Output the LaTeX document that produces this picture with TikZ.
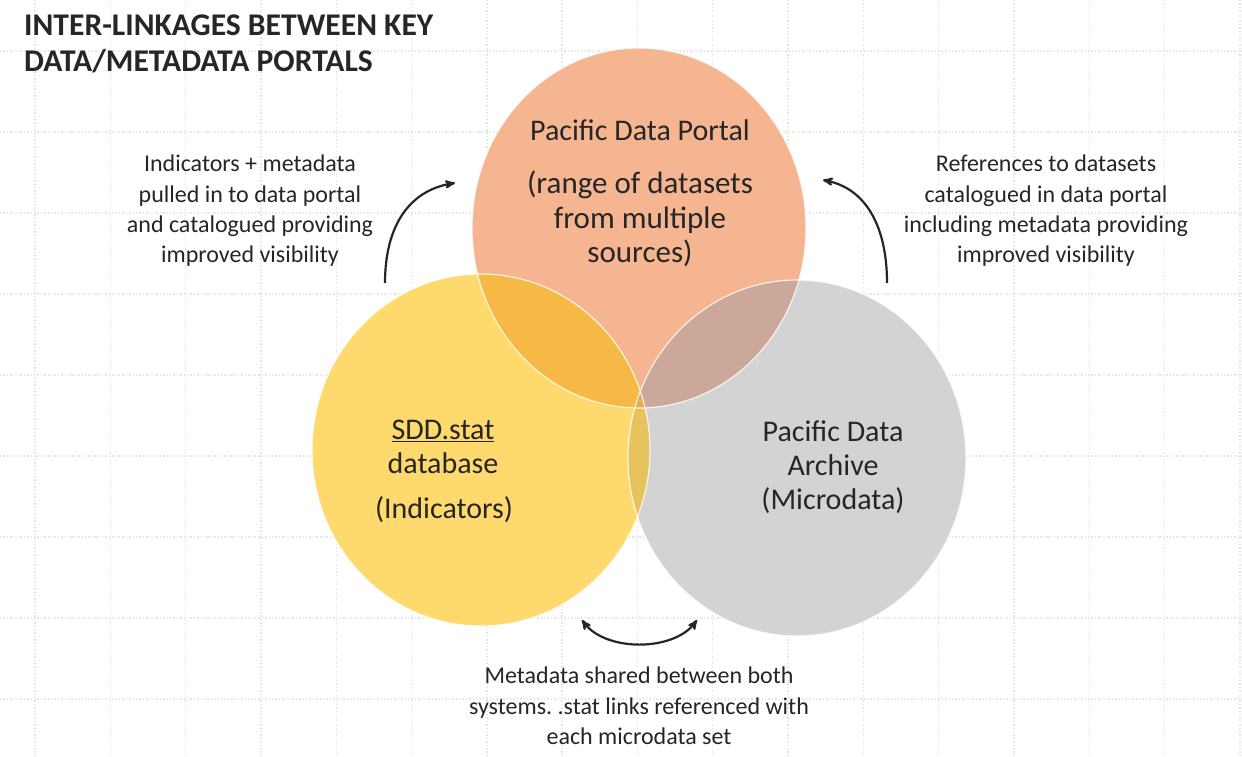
\documentclass[tikz,border=0pt]{standalone}
\usepackage{fontspec}
\setmainfont{Carlito}
\usepackage{tikz, xcolor}
\usetikzlibrary{shapes,arrows}
\frenchspacing

\definecolor{portalfill}{HTML}{F5B591}
\definecolor{sddfill}{HTML}{FED96E}
\definecolor{archfill}{HTML}{D3D3D3}
\definecolor{psfill}{HTML}{F7B946}
\definecolor{pafill}{HTML}{CCA89B}
\definecolor{safill}{HTML}{E6C35C}
\definecolor{allfill}{HTML}{E2AE55}
\definecolor{textgray}{HTML}{262626}
\definecolor{gridgray}{HTML}{E4E4E4}

\begin{document}
\begin{tikzpicture}[x=1pt, y=-1pt]
\tikzstyle{circtext}=[align=center, inner sep=0pt, text=textgray, font=\fontsize{30}{34}\selectfont]
\tikzstyle{notetext}=[align=center, inner sep=0pt, text=textgray, font=\fontsize{24}{30.3}\selectfont]
\tikzstyle{drawstyle}=[line width=2.2pt, draw=textgray, >=stealth']
\tikzstyle{gridline}=[dotted, line width=1.4pt, draw=gridgray]
\tikzstyle{rim}=[draw=white, line width=1.2pt, opacity=0.8]

\useasboundingbox[fill=white] (0,0) rectangle (1242,757);

% faint grid behind
\foreach \gx in {0,...,16}
  \draw[gridline] (35+75.3*\gx,0) -- (35+75.3*\gx,757);
\foreach \gy in {0,...,8}
  \draw[gridline] (0,51+81*\gy) -- (1242,51+81*\gy);

% the three portals
\fill[portalfill] (639,228) ellipse [x radius=167pt, y radius=180pt];
\fill[sddfill] (481,450) ellipse [x radius=169pt, y radius=176pt];
\fill[archfill] (797,458) ellipse [x radius=169pt, y radius=178pt];
\begin{scope}
  \clip (639,228) ellipse [x radius=167pt, y radius=180pt];
  \fill[psfill] (481,450) ellipse [x radius=169pt, y radius=176pt];
  \fill[pafill] (797,458) ellipse [x radius=169pt, y radius=178pt];
\end{scope}
\begin{scope}
  \clip (481,450) ellipse [x radius=169pt, y radius=176pt];
  \fill[safill] (797,458) ellipse [x radius=169pt, y radius=178pt];
  \clip (639,228) ellipse [x radius=167pt, y radius=180pt];
  \fill[allfill] (797,458) ellipse [x radius=169pt, y radius=178pt];
\end{scope}
\draw[rim] (639,228) ellipse [x radius=167pt, y radius=180pt];
\draw[rim] (481,450) ellipse [x radius=169pt, y radius=176pt];
\draw[rim] (797,458) ellipse [x radius=169pt, y radius=178pt];

\node[anchor=west, align=left, inner sep=0pt, text=textgray,
  font=\fontsize{31.6}{36}\selectfont\bfseries] (title) at (24,44)
  {INTER-LINKAGES BETWEEN KEY\\DATA/METADATA PORTALS};

\node[circtext] (portal) at (640,130) {Pacific Data Portal};
\node[circtext, font=\fontsize{31}{34.5}\selectfont] (portalsub) at (640,219)
  {(range of datasets\\from multiple\\sources)};
\node[circtext] (sdd) at (443,447) {\underline{SDD.stat}\\database};
\node[circtext] (sddsub) at (444,510) {(Indicators)};
\node[circtext] (archive) at (833,467) {Pacific Data\\Archive\\(Microdata)};

\node[notetext] (noteL) at (250,211)
  {Indicators + metadata\\pulled in to data portal\\and catalogued providing\\improved visibility};
\node[notetext] (noteR) at (1046,211)
  {References to datasets\\catalogued in data portal\\including metadata providing\\improved visibility};
\node[notetext] (noteB) at (639,706)
  {Metadata shared between both\\systems. .stat links referenced with\\each microdata set};

\coordinate (L0) at (385,283);
\coordinate (L1) at (455,183);
\coordinate (R0) at (887,283);
\coordinate (R1) at (823,180);
\coordinate (B0) at (582,620);
\coordinate (B1) at (697,620);
\draw[drawstyle, ->] (L0) .. controls (385,225) and (410,190) .. (L1);
\draw[drawstyle, ->] (R0) .. controls (887,225) and (865,188) .. (R1);
\draw[drawstyle, <->] (B0) .. controls (605,652) and (674,652) .. (B1);
\end{tikzpicture}
\end{document}
